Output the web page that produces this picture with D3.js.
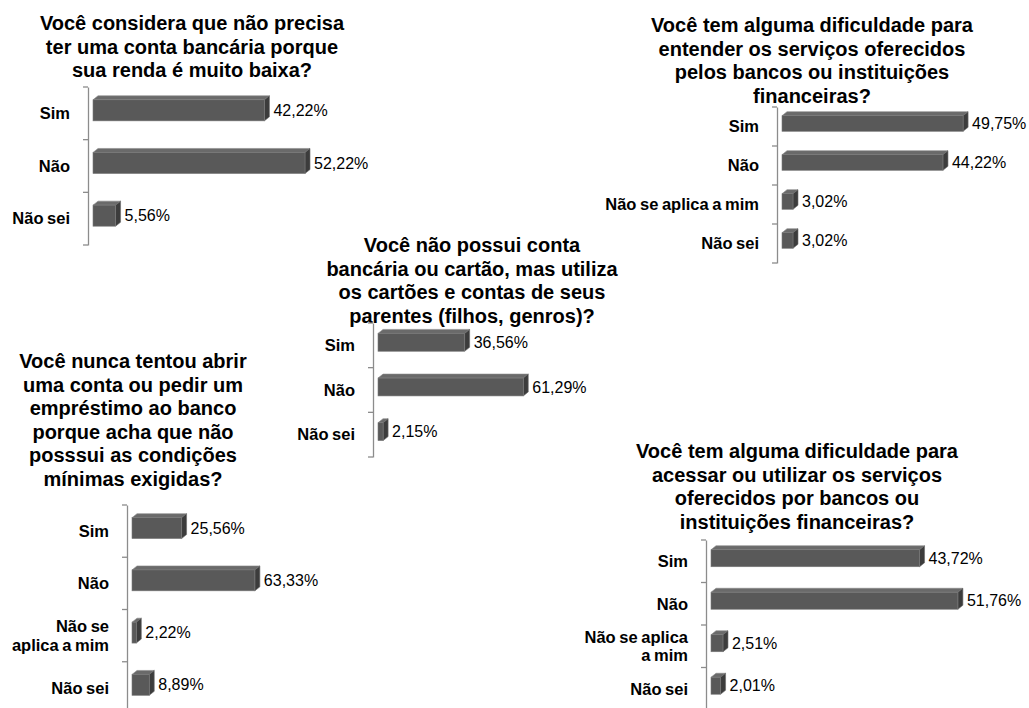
<!DOCTYPE html>
<html>
<head>
<meta charset="utf-8">
<script src="https://cdn.jsdelivr.net/npm/d3@7"></script>
<style>
  html, body { margin: 0; padding: 0; background: #fff; }
  svg { display: block; font-family: "Liberation Sans", Arial, sans-serif; }
</style>
</head>
<body>
<svg id="chart" width="1029" height="708"></svg>
<script>
// ---- DATA ----
const p1Title = ["Você considera que não precisa", "ter uma conta bancária porque", "sua renda é muito baixa?"];
const p1Categories = ["Sim", "Não", "Não sei"];
const p1Values = [42.22, 52.22, 5.56];

const p2Title = ["Você tem alguma dificuldade para", "entender os serviços oferecidos", "pelos bancos ou instituições", "financeiras?"];
const p2Categories = ["Sim", "Não", "Não se aplica a mim", "Não sei"];
const p2Values = [49.75, 44.22, 3.02, 3.02];

const p3Title = ["Você não possui conta", "bancária ou cartão, mas utiliza", "os cartões e contas de seus", "parentes (filhos, genros)?"];
const p3Categories = ["Sim", "Não", "Não sei"];
const p3Values = [36.56, 61.29, 2.15];

const p4Title = ["Você nunca tentou abrir", "uma conta ou pedir um", "empréstimo ao banco", "porque acha que não", "posssui as condições", "mínimas exigidas?"];
const p4Categories = ["Sim", "Não", "Não se|aplica a mim", "Não sei"];
const p4Values = [25.56, 63.33, 2.22, 8.89];

const p5Title = ["Você tem alguma dificuldade para", "acessar ou utilizar os serviços", "oferecidos por bancos ou", "instituições financeiras?"];
const p5Categories = ["Sim", "Não", "Não se aplica|a mim", "Não sei"];
const p5Values = [43.72, 51.76, 2.51, 2.01];

// ---- LAYOUT ----
const panels = [
  { title: p1Title, cats: p1Categories, vals: p1Values, tx: 192, ty: 30, axisX: 88, y0: 87, y1: 245, pxPer: 4.06 },
  { title: p2Title, cats: p2Categories, vals: p2Values, tx: 812, ty: 32, axisX: 777, y0: 107, y1: 263, pxPer: 3.64 },
  { title: p3Title, cats: p3Categories, vals: p3Values, tx: 472, ty: 252, axisX: 373, y0: 323, y1: 457, pxPer: 2.37 },
  { title: p4Title, cats: p4Categories, vals: p4Values, tx: 133, ty: 368, axisX: 127, y0: 505, y1: 714, pxPer: 1.94 },
  { title: p5Title, cats: p5Categories, vals: p5Values, tx: 797, ty: 458, axisX: 706, y0: 540, y1: 710, pxPer: 4.77 }
];

const svg = d3.select("#chart");
const dx = 5, dy = 4;
const fmt = v => d3.format(".2f")(v).replace(".", ",") + "%";

panels.forEach(p => {
  const g = svg.append("g");
  // title
  g.append("text")
    .attr("text-anchor", "middle")
    .attr("font-size", 20)
    .attr("font-weight", "bold")
    .attr("fill", "#000")
    .selectAll("tspan").data(p.title).join("tspan")
    .attr("x", p.tx)
    .attr("y", (d, i) => p.ty + i * 23.5)
    .text(d => d);

  const y = d3.scaleBand().domain(p.cats).range([p.y0, p.y1]).padding(0);
  const barStart = p.axisX + 5;
  const x = d3.scaleLinear().domain([0, 100]).range([barStart, barStart + p.pxPer * 100]);

  // axis
  const axis = d3.axisLeft(y).tickSize(0).tickFormat("");
  const ax = g.append("g").attr("transform", `translate(${p.axisX},0)`).call(axis);
  ax.select(".domain").attr("stroke", "#8c8c8c").attr("stroke-width", 1.3);
  // boundary tick marks
  const bounds = p.cats.map(c => y(c)).concat([p.y1]);
  g.selectAll(".tk").data(bounds).join("line")
    .attr("x1", p.axisX - 5).attr("x2", p.axisX)
    .attr("y1", d => d).attr("y2", d => d)
    .attr("stroke", "#8c8c8c").attr("stroke-width", 1.3);

  // category labels
  p.cats.forEach(c => {
    const lines = c.split("|");
    const cy = y(c) + y.bandwidth() / 2;
    const lh = 18.5;
    g.append("text")
      .attr("text-anchor", "end")
      .attr("font-size", 16.5)
      .attr("font-weight", "bold")
      .attr("fill", "#000")
      .attr("word-spacing", -1)
      .selectAll("tspan").data(lines).join("tspan")
      .attr("x", p.axisX - 18)
      .attr("y", (d, i) => cy + (i - (lines.length - 1) / 2) * lh)
      .attr("dy", "0.35em")
      .text(d => d);
  });

  // bars
  const h = y.bandwidth() * 0.4;
  p.cats.forEach((c, i) => {
    const v = p.vals[i];
    const xa = x(0), xb = x(v);
    const top = y(c) + y.bandwidth() / 2 - 3 - h / 2;
    const bot = top + h;
    const bg = g.append("g");
    bg.append("polygon")
      .attr("points", [[xa, top], [xa + dx, top - dy], [xb + dx, top - dy], [xb, top]].join(" "))
      .attr("fill", "#6a6a6a").attr("stroke", "#8a8a8a").attr("stroke-width", 0.6);
    bg.append("polygon")
      .attr("points", [[xb, top], [xb + dx, top - dy], [xb + dx, bot - dy], [xb, bot]].join(" "))
      .attr("fill", "#3c3c3c").attr("stroke", "#6a6a6a").attr("stroke-width", 0.6);
    bg.append("rect")
      .attr("x", xa).attr("y", top).attr("width", xb - xa).attr("height", h)
      .attr("fill", "#595959").attr("stroke", "#7a7a7a").attr("stroke-width", 0.6);
    g.append("text")
      .attr("x", xb + 9)
      .attr("y", top + h / 2)
      .attr("dy", "0.35em")
      .attr("font-size", 16)
      .attr("fill", "#000")
      .text(fmt(v));
  });
});
</script>
</body>
</html>
